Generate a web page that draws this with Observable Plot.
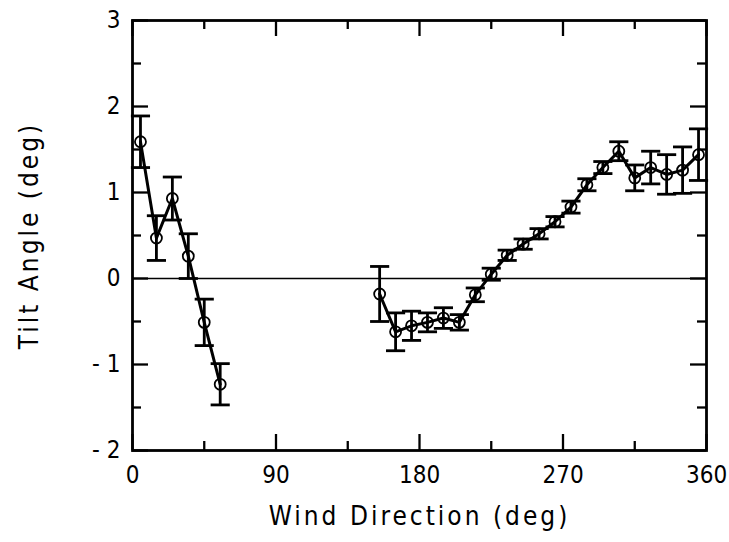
<!DOCTYPE html>
<html>
<head>
<meta charset="utf-8">
<script src="https://cdn.jsdelivr.net/npm/d3@7"></script>
<script src="https://cdn.jsdelivr.net/npm/@observablehq/plot@0.6"></script>
<style>
  html, body { margin: 0; padding: 0; background: #fff; }
  #chart { width: 729px; height: 542px; }
</style>
</head>
<body>
<div id="chart"></div>
<script>
// Segment A: wind directions 5..55 deg
const dirA  = [5, 15, 25, 35, 45, 55];
const tiltA = [1.59, 0.47, 0.93, 0.26, -0.51, -1.23];
const errA  = [0.30, 0.26, 0.25, 0.26, 0.27, 0.24];

// Segment B: wind directions 155..355 deg
const dirB  = [155, 165, 175, 185, 195, 205, 215, 225, 235, 245, 255, 265, 275, 285, 295, 305, 315, 325, 335, 345, 355];
const tiltB = [-0.18, -0.62, -0.55, -0.51, -0.46, -0.51, -0.19, 0.05, 0.27, 0.40, 0.52, 0.66, 0.83, 1.09, 1.29, 1.48, 1.17, 1.29, 1.21, 1.26, 1.44];
const errB  = [0.32, 0.22, 0.17, 0.11, 0.12, 0.09, 0.08, 0.07, 0.06, 0.06, 0.06, 0.06, 0.07, 0.07, 0.07, 0.11, 0.15, 0.19, 0.23, 0.27, 0.30];

const xTickLabels = [0, 90, 180, 270, 360];
const xMinorTicks = [45, 135, 225, 315];
const yTickLabels = [-2, -1, 0, 1, 2, 3];
const yMinorTicks = [-1.5, -0.5, 0.5, 1.5, 2.5];

const xTitle = "Wind Direction (deg)";
const yTitle = "Tilt Angle (deg)";

const rows = [
  ...dirA.map((d, i) => ({seg: "A", dir: d, tilt: tiltA[i], err: errA[i]})),
  ...dirB.map((d, i) => ({seg: "B", dir: d, tilt: tiltB[i], err: errB[i]}))
];

const W = 729, H = 542;
const mL = 132, mR = 23, mT = 20, mB = 92;
const plotH = H - mT - mB;
const plotW = W - mL - mR;
const majorLen = 16, minorLen = 9;
const capHalf = 6; // half-width of error-bar caps, in degrees
const font = "'DejaVu Sans Condensed', 'Liberation Sans', sans-serif";

const fmt = d => d < 0 ? "- " + Math.abs(d) : String(d);

const chart = Plot.plot({
  width: W, height: H,
  marginLeft: mL, marginRight: mR, marginTop: mT, marginBottom: mB,
  style: {fontFamily: font, background: "#fff", color: "#000"},
  x: {domain: [0, 360]},
  y: {domain: [-2, 3]},
  marks: [
    Plot.ruleY([0], {stroke: "#000", strokeWidth: 1.6}),
    // inward ticks, bottom & top
    Plot.ruleX(xTickLabels, {x: d => d, insetTop: plotH - majorLen, stroke: "#000", strokeWidth: 2.3}),
    Plot.ruleX(xTickLabels, {x: d => d, insetBottom: plotH - majorLen, stroke: "#000", strokeWidth: 2.3}),
    Plot.ruleX(xMinorTicks, {x: d => d, insetTop: plotH - minorLen, stroke: "#000", strokeWidth: 2.3}),
    Plot.ruleX(xMinorTicks, {x: d => d, insetBottom: plotH - minorLen, stroke: "#000", strokeWidth: 2.3}),
    // inward ticks, left & right
    Plot.ruleY(yTickLabels, {y: d => d, insetRight: plotW - majorLen, stroke: "#000", strokeWidth: 2.3}),
    Plot.ruleY(yTickLabels, {y: d => d, insetLeft: plotW - majorLen, stroke: "#000", strokeWidth: 2.3}),
    Plot.ruleY(yMinorTicks, {y: d => d, insetRight: plotW - minorLen, stroke: "#000", strokeWidth: 2.3}),
    Plot.ruleY(yMinorTicks, {y: d => d, insetLeft: plotW - minorLen, stroke: "#000", strokeWidth: 2.3}),
    // error bars
    Plot.ruleX(rows, {x: "dir", y1: d => d.tilt - d.err, y2: d => d.tilt + d.err, stroke: "#000", strokeWidth: 2.8}),
    Plot.link(rows, {x1: d => d.dir - capHalf, x2: d => d.dir + capHalf, y1: d => d.tilt + d.err, y2: d => d.tilt + d.err, stroke: "#000", strokeWidth: 2.8}),
    Plot.link(rows, {x1: d => d.dir - capHalf, x2: d => d.dir + capHalf, y1: d => d.tilt - d.err, y2: d => d.tilt - d.err, stroke: "#000", strokeWidth: 2.8}),
    // connecting line
    Plot.line(rows, {x: "dir", y: "tilt", z: "seg", stroke: "#000", strokeWidth: 3}),
    // open circles
    Plot.dot(rows, {x: "dir", y: "tilt", r: 5.5, stroke: "#000", strokeWidth: 1.8, fill: "none"}),
    Plot.frame({stroke: "#000", strokeWidth: 2.8}),
    Plot.axisX({ticks: xTickLabels, tickSize: 0, tickPadding: 15, tickFormat: fmt, fontSize: 24, label: null}),
    Plot.axisY({ticks: yTickLabels, tickSize: 0, tickPadding: 12, tickFormat: fmt, fontSize: 24, label: null}),
    Plot.text([xTitle], {text: d => d, frameAnchor: "bottom", textAnchor: "middle", dy: 74, fontSize: 26, fill: "#000"}),
    Plot.text([yTitle], {text: d => d, frameAnchor: "left", textAnchor: "middle", rotate: -90, dx: -103, fontSize: 26, fill: "#000"})
  ]
});

d3.select(chart).selectAll("text")
  .filter(function() { return this.textContent === xTitle; })
  .attr("letter-spacing", "3px");
d3.select(chart).selectAll("text")
  .filter(function() { return this.textContent === yTitle; })
  .attr("letter-spacing", "3px");

document.getElementById("chart").appendChild(chart);
</script>
</body>
</html>
